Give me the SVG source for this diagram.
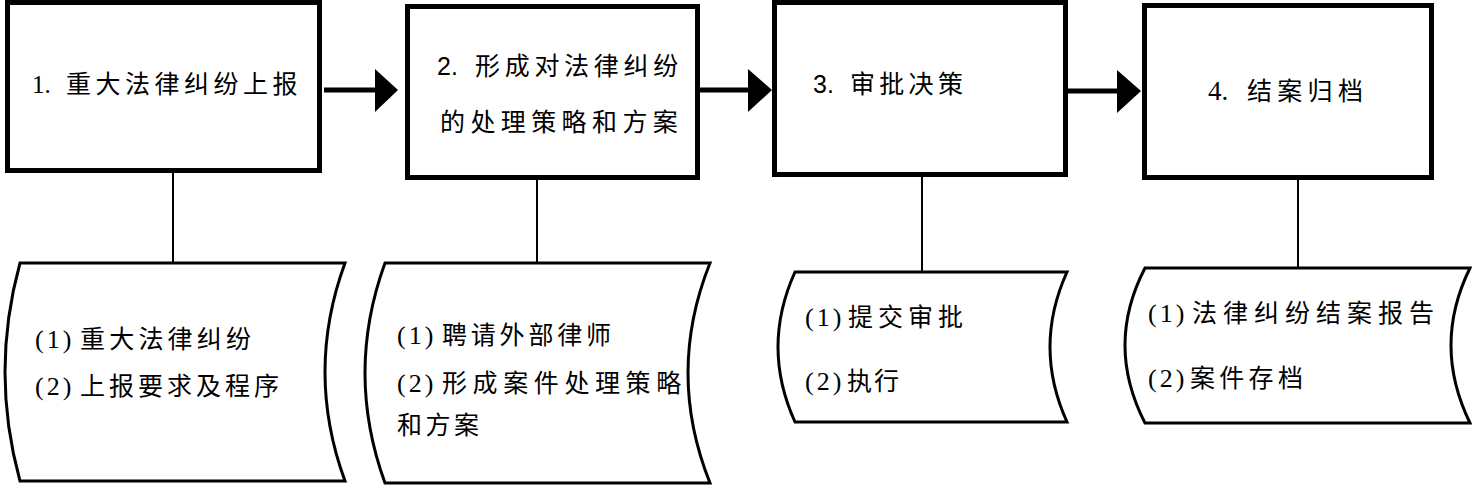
<svg xmlns="http://www.w3.org/2000/svg" width="1472" height="487" viewBox="0 0 1472 487">
<defs>
<style>
.box{fill:#fff;stroke:#000;stroke-width:5}
.doc{fill:#fff;stroke:#000;stroke-width:3}
.ln{stroke:#000;stroke-width:2;fill:none}
.ar{stroke:#000;stroke-width:5;fill:none}
.hd{fill:#000}
text{font-family:"Liberation Serif","Noto Sans CJK SC",serif;font-size:25px;fill:#000}
.pre{font-size:26px;letter-spacing:3px}
.sans{font-family:"Liberation Sans","Noto Sans CJK SC",sans-serif}
</style>
</defs>
<rect width="1472" height="487" fill="#fff"/>
<g id="connectors">
<line class="ln" x1="173" y1="172" x2="173" y2="263"/>
<line class="ln" x1="537" y1="179" x2="537" y2="263"/>
<line class="ln" x1="922" y1="176" x2="922" y2="272"/>
<line class="ln" x1="1298" y1="179" x2="1298" y2="268"/>
<line class="ar" x1="324" y1="90" x2="378" y2="90"/>
<polygon class="hd" points="375,69 398,90 375,112"/>
<line class="ar" x1="700" y1="90" x2="750" y2="90"/>
<polygon class="hd" points="748,69 772,90 748,112"/>
<line class="ar" x1="1068" y1="91" x2="1120" y2="91"/>
<polygon class="hd" points="1117,70 1141,91 1117,113"/>
</g>
<g id="n1">
<rect class="box" x="7.5" y="2.5" width="312" height="168"/>
<text y="93"><tspan x="32">1.</tspan><tspan x="66" letter-spacing="4.5">重大法律纠纷上报</tspan></text>
</g>
<g id="n2">
<rect class="box" x="407.5" y="6.5" width="290" height="171"/>
<text y="75"><tspan x="437" class="sans">2.</tspan><tspan x="475" letter-spacing="4.7">形成对法律纠纷</tspan></text>
<text x="440" y="131" letter-spacing="5.4">的处理策略和方案</text>
</g>
<g id="n3">
<rect class="box" x="774.5" y="2.5" width="291" height="172"/>
<text y="93"><tspan x="813" class="sans">3.</tspan><tspan x="850" letter-spacing="4.3">审批决策</tspan></text>
</g>
<g id="n4">
<rect class="box" x="1144.5" y="5.5" width="287" height="172"/>
<text y="100"><tspan x="1208" font-size="27">4.</tspan><tspan x="1247" letter-spacing="5.3">结案归档</tspan></text>
</g>
<g id="d1">
<path class="doc" d="M20,263 L345,263 Q305,372 345,481 L20,481 Q-10,372 20,263 Z"/>
<text y="348"><tspan x="35" class="pre">(1)</tspan><tspan x="80" letter-spacing="4.2">重大法律纠纷</tspan></text>
<text y="395"><tspan x="35" class="pre">(2)</tspan><tspan x="80" letter-spacing="4">上报要求及程序</tspan></text>
</g>
<g id="d2">
<path class="doc" d="M385,263 L710,263 Q666,373 710,483 L385,483 Q345,373 385,263 Z"/>
<text y="344"><tspan x="397" class="pre">(1)</tspan><tspan x="442" letter-spacing="3.8">聘请外部律师</tspan></text>
<text y="392"><tspan x="397" class="pre">(2)</tspan><tspan x="442" letter-spacing="5.6">形成案件处理策略</tspan></text>
<text x="397" y="434" letter-spacing="3.5">和方案</text>
</g>
<g id="d3">
<path class="doc" d="M795,272 L1067,272 Q1033,347 1067,422 L795,422 Q761,347 795,272 Z"/>
<text y="326"><tspan x="805" class="pre">(1)</tspan><tspan x="848" letter-spacing="5">提交审批</tspan></text>
<text y="390"><tspan x="805" class="pre">(2)</tspan><tspan x="847" letter-spacing="2">执行</tspan></text>
</g>
<g id="d4">
<path class="doc" d="M1145,268 L1470,268 Q1432,345 1470,423 L1145,423 Q1105,345 1145,268 Z"/>
<text y="322"><tspan x="1148" class="pre">(1)</tspan><tspan x="1192" letter-spacing="6">法律纠纷结案报告</tspan></text>
<text y="387"><tspan x="1148" class="pre">(2)</tspan><tspan x="1190" letter-spacing="4.3">案件存档</tspan></text>
</g>
</svg>
